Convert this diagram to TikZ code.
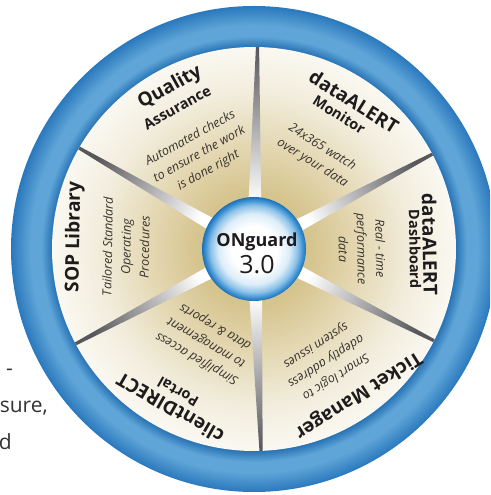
\documentclass[tikz,border=0pt]{standalone}
\usepackage{fontspec}
\setmainfont{Open Sans}

\definecolor{ringin}{HTML}{1F6BB0}
\definecolor{ringmid}{HTML}{5FA5D7}
\definecolor{ringout}{HTML}{2A78BD}
\definecolor{tanA}{HTML}{CDB87C}
\definecolor{tanB}{HTML}{D6C48E}
\definecolor{tanC}{HTML}{E4D8B3}
\definecolor{tanD}{HTML}{F2EDDD}
\definecolor{tanE}{HTML}{FAF8F1}
\definecolor{hubB}{HTML}{DCEDF8}
\definecolor{hubC}{HTML}{8CC1E8}
\definecolor{hubD}{HTML}{3A90D2}
\definecolor{hubE}{HTML}{1E6FB5}
\definecolor{spokegray}{HTML}{58585C}
\definecolor{inkdark}{HTML}{1E1B1C}
\definecolor{inktext}{HTML}{38332E}

\pgfdeclareradialshading{ringshade}{\pgfpointorigin}{color(0bp)=(ringin); color(20.6bp)=(ringin); color(21.9bp)=(ringmid); color(23bp)=(ringmid); color(25bp)=(ringout); color(50bp)=(ringout)}
\pgfdeclareradialshading{discshade}{\pgfpointorigin}{color(0bp)=(tanA); color(7bp)=(tanB); color(13bp)=(tanC); color(19.5bp)=(tanD); color(25bp)=(tanE); color(50bp)=(tanE)}
\pgfdeclareradialshading{hubshade}{\pgfpointorigin}{color(0bp)=(white); color(11bp)=(white); color(17bp)=(hubB); color(21bp)=(hubC); color(23.5bp)=(hubD); color(25bp)=(hubE); color(50bp)=(hubE)}

\tikzset{
  secttitle/.style={inner sep=0pt, text=inkdark, font=\bfseries\fontsize{19}{19}\selectfont},
  sectsub/.style={inner sep=0pt, text=inkdark, font=\bfseries\fontsize{14.5}{15}\selectfont},
  sectblurb/.style={inner sep=0pt, align=center, text=inktext, font=\itshape\fontsize{12.5}{18.5}\selectfont},
  spoke/.style={top color=spokegray, bottom color=white},
  hubnode/.style={circle, minimum size=104pt, inner sep=0pt, shading=hubshade},
  sidetext/.style={inner sep=0pt, anchor=base east, text=black!80, font=\fontsize{21}{21}\selectfont}
}

\begin{document}
\begin{tikzpicture}[x=1pt, y=1pt]
  \useasboundingbox (-254,-246) rectangle (236,249);
  \clip (-254,-246) rectangle (236,249);

  % wheel
  \shade[shading=ringshade] (0,0) circle (243);
  \shade[shading=discshade] (0,0) circle (202);
  \foreach \a [evaluate=\a as \sa using \a-90] in {89,28,-27,-88,-152,150}
    \shade[spoke, shading angle=\sa] (\a+8:46) -- (\a+0.45:202) -- (\a-0.45:202) -- (\a-8:46) -- cycle;

  \node[hubnode] (hub) at (0,0) {};
  \node[inner sep=0pt, text=inkdark, font=\bfseries\fontsize{18}{18}\selectfont] (onguard) at (3,7) {ONguard};
  \node[inner sep=0pt, text=inkdark, font=\fontsize{25}{25}\selectfont] (version) at (3,-16) {3.0};

  % Quality Assurance
  \node[secttitle, rotate=29] (qa-title) at (117.5:182) {Quality};
  \node[sectsub, rotate=29] (qa-sub) at (118.5:161) {Assurance};
  \node[sectblurb, rotate=29] (qa-text) at (120:109) {Automated checks\\to ensure the work\\is done right};

  % dataALERT Monitor
  \node[secttitle, rotate=-32] (mon-title) at (55.8:178) {dataALERT};
  \node[sectsub, rotate=-32] (mon-sub) at (57.6:159) {Monitor};
  \node[sectblurb, rotate=-32] (mon-text) at (56:113) {24x365 watch\\over your data};

  % dataALERT Dashboard
  \node[secttitle, rotate=-89] (dash-title) at (1.5:176) {dataALERT};
  \node[sectsub, rotate=-89] (dash-sub) at (0:161) {Dashboard};
  \node[sectblurb, rotate=-89] (dash-text) at (0:108) {Real - time\\performance\\data};

  % Ticket Manager
  \node[secttitle, rotate=212.5] (tick-title) at (-54.4:179) {Ticket Manager};
  \node[sectblurb, rotate=212.5] (tick-text) at (-57.4:133) {Smart logic to\\adeptly address\\system issues};

  % clientDIRECT Portal
  \node[secttitle, rotate=150] (cli-title) at (-117.8:180) {clientDIRECT};
  \node[sectsub, rotate=150] (cli-sub) at (-118:162) {Portal};
  \node[sectblurb, rotate=150] (cli-text) at (-117:105) {Simplified access\\to management\\data \& reports};

  % SOP Library
  \node[secttitle, rotate=89] (sop-title) at (176.2:180) {SOP Library};
  \node[sectblurb, rotate=89] (sop-text) at (179:128) {Tailored Standard\\Operating\\Procedures};

  % cut-off text on the left
  \node[sidetext] (side-a) at (-241,-126) {-};
  \node[sidetext] (side-b) at (-206,-163) {sure,};
  \node[sidetext] (side-c) at (-242,-200) {d};
\end{tikzpicture}
\end{document}
